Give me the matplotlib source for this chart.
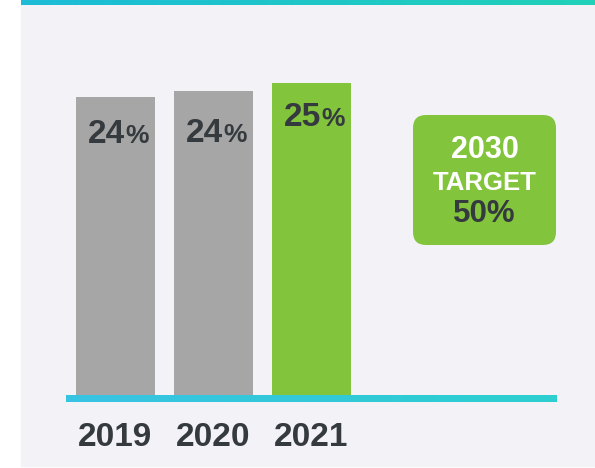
import matplotlib
matplotlib.use("Agg")
import matplotlib.pyplot as plt
import numpy as np
from matplotlib.patches import Rectangle, FancyBboxPatch
from matplotlib.colors import LinearSegmentedColormap
import matplotlib.transforms as mtrans

# ---- data ----
years = ["2019", "2020", "2021"]
values = [23.9, 24.4, 25.0]
bar_labels = ["24", "24", "25"]
target_year = "2030"
target_word = "TARGET"
target_value = "50%"

# ---- style ----
W, H, DPI = 595, 468, 100
FONT = "Liberation Sans"
DARK = "#343a3e"
GRAY = "#a6a6a6"
GREEN = "#82c43c"
PANEL = "#f2f2f7"
bar_colors = [GRAY, GRAY, GREEN]
label_drop_px = [46, 51, 43]

plt.rcParams["font.family"] = [FONT, "DejaVu Sans"]

fig = plt.figure(figsize=(W / DPI, H / DPI), dpi=DPI)
fig.patch.set_facecolor("white")

def fy(y):  # top-down pixel -> figure fraction
    return (H - y) / H

def fx(x):
    return x / W

# panel background
fig.patches.append(Rectangle((fx(21), fy(466)), fx(595 - 21), (466 - 5) / H,
                             transform=fig.transFigure, color=PANEL, zorder=-5))

# top gradient strip
top_ax = fig.add_axes([fx(21), fy(5), fx(595 - 21), 5 / H])
top_cmap = LinearSegmentedColormap.from_list("top", ["#1cbcd8", "#21d1b8"])
top_ax.imshow(np.linspace(0, 1, 256)[None, :], cmap=top_cmap, aspect="auto")
top_ax.set_axis_off()

# main axes
base_px, top_px = 399, 5
left_px, right_px = 66, 557
ax = fig.add_axes([fx(left_px), fy(base_px), fx(right_px - left_px), (base_px - top_px) / H])
ax.set_zorder(2)
ax.set_facecolor("none")
ymax = 25.0 * (base_px - top_px) / (base_px - 83)
spacing_px = 98
xleft = -(115.5 - left_px) / spacing_px
xright = 2 + (right_px - 311.5) / spacing_px
for s in ax.spines.values():
    s.set_visible(False)
ax.set_xticks([])
ax.set_yticks([])

x = np.arange(len(years))
ax.bar(x, values, width=79 / spacing_px, color=bar_colors, zorder=2)

# baseline gradient line
line_h = 7 / (base_px - top_px) * ymax
base_cmap = LinearSegmentedColormap.from_list("base", ["#38c3e3", "#2ccfd0"])
ax.imshow(np.linspace(0, 1, 256)[None, :], cmap=base_cmap, aspect="auto",
          extent=[xleft, xright, -line_h / 2, line_h / 2], zorder=3, clip_on=False)
ax.set_xlim(xleft, xright)
ax.set_ylim(0, ymax)

# year labels
xt = ax.get_xaxis_transform()
for xi, yr in zip(x, years):
    t = xt + mtrans.ScaledTranslation(0, -47 / DPI, fig.dpi_scale_trans)
    ax.text(xi, 0, yr, transform=t, ha="center", va="baseline",
            fontsize=24, fontweight="bold", color=DARK)

# bar value labels
for xi, v, lab, drop in zip(x, values, bar_labels, label_drop_px):
    t = ax.transData + mtrans.ScaledTranslation(9.5 / DPI, -drop / DPI, fig.dpi_scale_trans)
    ax.text(xi, v, lab, transform=t, ha="right", va="baseline",
            fontsize=24, fontweight="bold", color=DARK, zorder=4)
    ax.text(xi, v, "%", transform=t, ha="left", va="baseline",
            fontsize=19, fontweight="bold", color=DARK, zorder=4)

# target box
box = FancyBboxPatch((fx(413), fy(245)), fx(556 - 413), (245 - 115) / H,
                     boxstyle="round,pad=0,rounding_size=0.022",
                     transform=fig.transFigure, facecolor=GREEN, edgecolor="none",
                     mutation_aspect=W / H, zorder=1)
fig.patches.append(box)
cx = fx(484.5)
fig.text(cx, fy(158.5), target_year, ha="center", va="baseline",
         fontsize=22, fontweight="bold", color="white")
fig.text(cx, fy(189.5), target_word, ha="center", va="baseline",
         fontsize=18.5, fontweight="bold", color="white")
fig.text(cx, fy(222.5), target_value, ha="center", va="baseline",
         fontsize=22.5, fontweight="bold", color=DARK)

fig.savefig("out.png", dpi=DPI, facecolor=fig.get_facecolor())
